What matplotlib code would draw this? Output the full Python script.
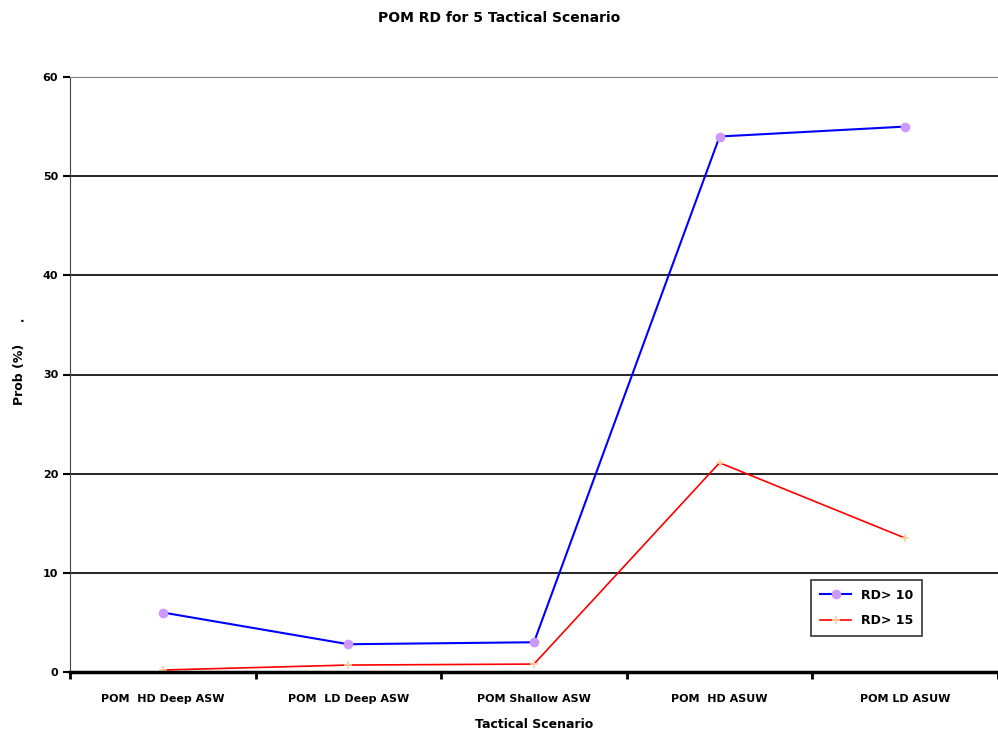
from matplotlib import pyplot as plt
import numpy as np

# data
scenarios = ['POM  HD Deep ASW', 'POM  LD Deep ASW', 'POM Shallow ASW',
             'POM  HD ASUW', 'POM LD ASUW']
rd10 = [6.0, 2.8, 3.0, 54.0, 55.0]
rd15 = [0.2, 0.7, 0.8, 21.1, 13.5]

x = np.arange(len(scenarios))

fig = plt.figure(figsize=(9.98, 7.40), dpi=100)
ax = fig.add_axes([70/998, 68/740, 928/998, 595/740])

ax.plot(x, rd10, color='blue', linewidth=1.5, marker='o', markersize=6,
        markerfacecolor='#cc99ff', markeredgecolor='#cc99ff', label='RD> 10')
ax.plot(x, rd15, color='red', linewidth=1.2, marker='+', markersize=6,
        markeredgecolor='#ffcc99', markeredgewidth=1.2, label='RD> 15')

ax.set_xlim(-0.5, 4.5)
ax.set_ylim(0, 60)
ax.set_yticks(np.arange(0, 61, 10))
ax.set_xticks(np.arange(-0.5, 4.6, 1.0))
ax.set_xticklabels([])
ax.set_xticks(x, minor=True)
ax.set_xticklabels(scenarios, minor=True, fontsize=8, fontweight='bold')
ax.tick_params(axis='x', which='minor', length=0, pad=16)
ax.tick_params(axis='x', which='major', direction='out', length=5, width=2)
ax.tick_params(axis='y', direction='out', length=5, width=1.5, labelsize=8)
for lab in ax.get_yticklabels():
    lab.set_fontweight('bold')

# horizontal gridlines
for yv in range(10, 60, 10):
    ax.axhline(yv, color='black', linewidth=1.2, zorder=0)
ax.spines['top'].set_color('gray')
ax.spines['right'].set_visible(False)
ax.spines['left'].set_color('#444444')
ax.spines['bottom'].set_linewidth(2.5)

ax.set_xlabel('Tactical Scenario', fontsize=9, fontweight='bold', labelpad=10)
ax.set_ylabel('Prob (%)', fontsize=9, fontweight='bold', labelpad=12)
fig.text(22/998, 1 - 322/740, '.', fontsize=9, fontweight='bold', ha='center')

fig.suptitle('POM RD for 5 Tactical Scenario', y=0.985, fontsize=10, fontweight='bold')

leg = ax.legend(loc='lower left', bbox_to_anchor=(0.792, 0.05), fontsize=9,
                frameon=True, fancybox=False, edgecolor='black',
                handlelength=2.5, borderpad=0.7, labelspacing=1.0)
leg.get_frame().set_linewidth(1.2)
for t in leg.get_texts():
    t.set_fontweight('bold')

fig.savefig('out.png', dpi=100)
